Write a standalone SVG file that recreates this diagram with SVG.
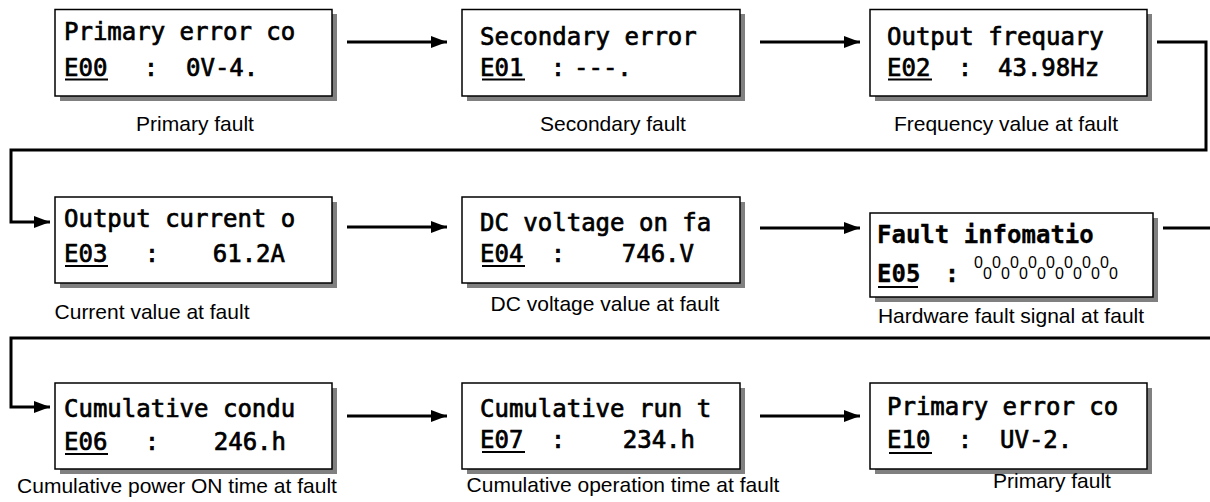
<svg xmlns="http://www.w3.org/2000/svg" width="1210" height="502" viewBox="0 0 1210 502">
<style>
.bx{fill:#fff;stroke:#000;stroke-width:1.5}
.sh{fill:#808080}
.m{font-family:"DejaVu Sans Mono","Liberation Mono",monospace;font-size:24px;fill:#000;stroke:#000;stroke-width:0.7}
.mb{font-weight:bold;stroke-width:0.3}
.c{text-anchor:middle}
.e{text-anchor:end}
.ul{stroke:#000;stroke-width:2}
.lb{font-family:"Liberation Sans",Arial,sans-serif;font-size:21px;fill:#000;text-anchor:middle}
.sig{font-family:"Liberation Sans",Arial,sans-serif;font-size:16px;fill:#000}
.cn{fill:none;stroke:#000;stroke-width:3;marker-end:url(#ah)}
</style>
<defs>
<marker id="ah" viewBox="0 0 16 12" refX="16" refY="6" markerWidth="16" markerHeight="12" markerUnits="userSpaceOnUse" orient="auto">
<path d="M0,0 L16,6 L0,12 Z" fill="#000"/>
</marker>
</defs>
<g id="connectors">
<path class="cn" d="M347,42 H447"/>
<path class="cn" d="M760,42 H860"/>
<path class="cn" d="M1157,42 H1206 V150 H11 V222 H50"/>
<path class="cn" d="M347,227 H447"/>
<path class="cn" d="M760,228 H860"/>
<path class="cn" d="M1163,228 H1210 M1210,338 H11 V407 H50"/>
<path class="cn" d="M347,416 H447"/>
<path class="cn" d="M760,416 H860"/>
</g>
<g id="n1">
<rect class="sh" x="60" y="14" width="277" height="87"/>
<rect class="bx" x="55" y="9.5" width="277" height="86.5"/>
<text class="m" x="64" y="40">Primary error co</text>
<text class="m" x="64" y="76">E00</text><text class="m c" x="151" y="76">:</text><text class="m" x="186" y="76">0V-4.</text>
<line class="ul" x1="65" y1="79.5" x2="108" y2="79.5"/>
<text class="lb" x="195" y="131">Primary fault</text>
</g>
<g id="n2">
<rect class="sh" x="467" y="14" width="278" height="87"/>
<rect class="bx" x="462" y="9.5" width="278" height="86.5"/>
<text class="m" x="480" y="45">Secondary error</text>
<text class="m" x="480" y="76">E01</text><text class="m c" x="558" y="76">:</text><text class="m" x="574" y="76">---.</text>
<line class="ul" x1="482" y1="79.5" x2="525" y2="79.5"/>
<text class="lb" x="613" y="131">Secondary fault</text>
</g>
<g id="n3">
<rect class="sh" x="875" y="14" width="277" height="87"/>
<rect class="bx" x="870" y="9.5" width="277" height="86.5"/>
<text class="m" x="887" y="45">Output frequary</text>
<text class="m" x="887" y="76">E02</text><text class="m c" x="965" y="76">:</text><text class="m" x="998" y="76">43.98Hz</text>
<line class="ul" x1="888" y1="79.5" x2="932" y2="79.5"/>
<text class="lb" x="1006" y="131">Frequency value at fault</text>
</g>
<g id="n4">
<rect class="sh" x="60" y="202" width="277" height="86"/>
<rect class="bx" x="55" y="197" width="277" height="86"/>
<text class="m" x="64" y="227">Output current o</text>
<text class="m" x="64" y="262">E03</text><text class="m c" x="152" y="262">:</text><text class="m e" x="285" y="262">61.2A</text>
<line class="ul" x1="65" y1="266" x2="108" y2="266"/>
<text class="lb" x="152" y="319">Current value at fault</text>
</g>
<g id="n5">
<rect class="sh" x="467" y="202" width="278" height="86"/>
<rect class="bx" x="462" y="197" width="278" height="86"/>
<text class="m" x="480" y="231">DC voltage on fa</text>
<text class="m" x="480" y="262">E04</text><text class="m c" x="558" y="262">:</text><text class="m e" x="694" y="262">746.V</text>
<line class="ul" x1="482" y1="266" x2="525" y2="266"/>
<text class="lb" x="605" y="311">DC voltage value at fault</text>
</g>
<g id="n6">
<rect class="sh" x="875" y="218" width="283" height="84"/>
<rect class="bx" x="870" y="213" width="283" height="84"/>
<text class="m mb" x="877" y="243">Fault infomatio</text>
<text class="m mb" x="877" y="282">E05</text><text class="m mb c" x="952" y="282">:</text>
<line class="ul" x1="878" y1="287" x2="918" y2="287"/>
<text class="sig"><tspan x="974" y="268">0</tspan><tspan x="983" y="279">0</tspan><tspan x="992" y="268">0</tspan><tspan x="1001" y="279">0</tspan><tspan x="1010" y="268">0</tspan><tspan x="1019" y="279">0</tspan><tspan x="1028" y="268">0</tspan><tspan x="1037" y="279">0</tspan><tspan x="1046" y="268">0</tspan><tspan x="1055" y="279">0</tspan><tspan x="1064" y="268">0</tspan><tspan x="1073" y="279">0</tspan><tspan x="1082" y="268">0</tspan><tspan x="1091" y="279">0</tspan><tspan x="1100" y="268">0</tspan><tspan x="1109" y="279">0</tspan></text>
<text class="lb" x="1011" y="323">Hardware fault signal at fault</text>
</g>
<g id="n7">
<rect class="sh" x="60" y="388" width="277" height="86"/>
<rect class="bx" x="55" y="383" width="277" height="86"/>
<text class="m" x="64" y="417">Cumulative condu</text>
<text class="m" x="64" y="450">E06</text><text class="m c" x="152" y="450">:</text><text class="m e" x="286" y="450">246.h</text>
<line class="ul" x1="65" y1="454" x2="108" y2="454"/>
<text class="lb" x="177" y="493">Cumulative power ON time at fault</text>
</g>
<g id="n8">
<rect class="sh" x="467" y="388" width="278" height="86"/>
<rect class="bx" x="462" y="383" width="278" height="86"/>
<text class="m" x="480" y="417">Cumulative run t</text>
<text class="m" x="480" y="448">E07</text><text class="m c" x="558" y="448">:</text><text class="m e" x="695" y="448">234.h</text>
<line class="ul" x1="482" y1="452" x2="525" y2="452"/>
<text class="lb" x="623" y="492">Cumulative operation time at fault</text>
</g>
<g id="n9">
<rect class="sh" x="875" y="388" width="277" height="86"/>
<rect class="bx" x="870" y="383" width="277" height="86"/>
<text class="m" x="887" y="415">Primary error co</text>
<text class="m" x="887" y="448">E10</text><text class="m c" x="965" y="448">:</text><text class="m" x="1000" y="448">UV-2.</text>
<line class="ul" x1="889" y1="453" x2="932" y2="453"/>
<text class="lb" x="1052" y="488">Primary fault</text>
</g>
</svg>
